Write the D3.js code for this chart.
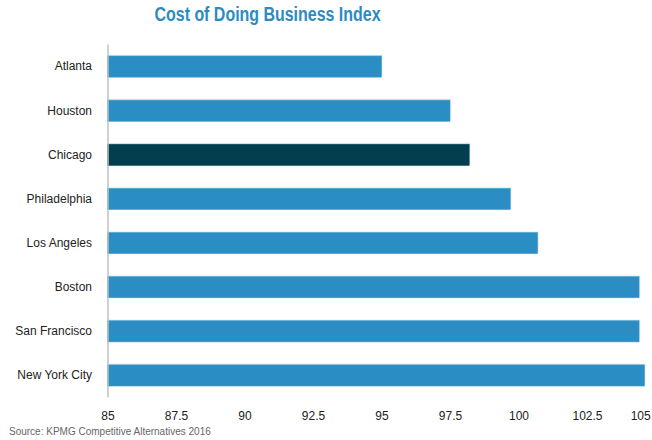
<!DOCTYPE html>
<html>
<head>
<meta charset="utf-8">
<script src="https://cdn.jsdelivr.net/npm/d3@7"></script>
<style>
  html, body { margin: 0; padding: 0; background: #fff; }
  svg { display: block; }
  text { font-family: "Liberation Sans", Arial, sans-serif; }
</style>
</head>
<body>
<div id="chart"></div>
<script>
// Cost of Doing Business Index (US = 100 baseline)
const cities = ["Atlanta", "Houston", "Chicago", "Philadelphia", "Los Angeles", "Boston", "San Francisco", "New York City"];
const indexValues = [95.0, 97.5, 98.2, 99.7, 100.7, 104.4, 104.4, 104.6];
const highlightCity = "Chicago";
const xTicks = [85, 87.5, 90, 92.5, 95, 97.5, 100, 102.5, 105];
const titleText = "Cost of Doing Business Index";
const sourceText = "Source: KPMG Competitive Alternatives 2016";

const W = 652, H = 440;
const plot = { left: 108, right: 655.5, top: 44.5, bottom: 397.5 };

const svg = d3.select("#chart").append("svg")
  .attr("width", W).attr("height", H);

const x = d3.scaleLinear().domain([85, 105]).range([plot.left - 0.5, plot.right]);
const y = d3.scaleBand().domain(cities).range([plot.top, plot.bottom])
  .paddingInner(0.52).paddingOuter(0.26);

const data = cities.map((c, i) => ({ city: c, value: indexValues[i] }));

// title (condensed bold)
svg.append("text")
  .attr("x", 267.5).attr("y", 21)
  .attr("text-anchor", "middle")
  .attr("textLength", 226)
  .attr("lengthAdjust", "spacingAndGlyphs")
  .style("font-weight", "bold")
  .style("font-size", "20px")
  .attr("fill", "#2e8bc0")
  .text(titleText);

// faint shadow under each bar
const shadows = svg.append("g");
[[2, 0.025], [1, 0.06]].forEach(([o, a]) => {
  shadows.selectAll(null).data(data).join("rect")
    .attr("x", x(85))
    .attr("y", d => y(d.city) - o)
    .attr("width", d => x(d.value) - x(85) + o)
    .attr("height", y.bandwidth())
    .attr("fill", "#000")
    .attr("fill-opacity", a);
});

// bars
svg.append("g").selectAll("rect").data(data).join("rect")
  .attr("x", x(85))
  .attr("y", d => y(d.city))
  .attr("width", d => x(d.value) - x(85))
  .attr("height", y.bandwidth())
  .attr("fill", d => d.city === highlightCity ? "#023e50" : "#2a8dc4")
  .attr("stroke", d => d.city === highlightCity ? "#0b4a5c" : "#4aa0cf")
  .attr("stroke-width", 0.6);

// category axis
const yAxis = svg.append("g")
  .attr("transform", `translate(${plot.left},0)`)
  .call(d3.axisLeft(y).tickSize(0).tickPadding(16));
yAxis.select(".domain").remove();
yAxis.selectAll("text")
  .style("font-size", "12px")
  .attr("fill", "#222");

// vertical axis line
svg.append("line")
  .attr("x1", plot.left).attr("x2", plot.left)
  .attr("y1", plot.top).attr("y2", plot.bottom)
  .attr("stroke", "#c0c0c0").attr("stroke-width", 1.5);

// value axis (labels only)
const xAxis = svg.append("g")
  .attr("transform", `translate(0,${plot.bottom})`)
  .call(d3.axisBottom(x).tickValues(xTicks).tickSize(0).tickPadding(14)
    .tickFormat(d3.format("~g")));
xAxis.select(".domain").remove();
xAxis.selectAll("text")
  .style("font-size", "12px")
  .attr("fill", "#222");
// keep the last tick label inside the canvas
xAxis.selectAll(".tick text").each(function () {
  const b = this.getBBox();
  const ctm = this.getCTM();
  const right = ctm.e + b.x + b.width;
  if (right > W) d3.select(this).attr("dx", (W - 1 - right) + "px");
});

// source note
svg.append("text")
  .attr("x", 9).attr("y", 435)
  .style("font-size", "10px")
  .attr("fill", "#666")
  .text(sourceText);
</script>
</body>
</html>
